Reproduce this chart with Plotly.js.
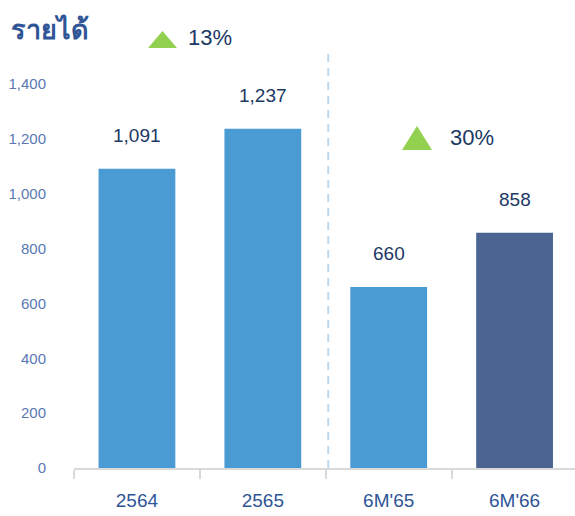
<!DOCTYPE html>
<html>
<head>
<meta charset="utf-8">
<script src="https://cdn.plot.ly/plotly-3.0.1.min.js"></script>
<style>html,body{margin:0;padding:0;background:#fff;}#chart{width:575px;height:516px;}</style>
</head>
<body>
<div id="chart"></div>
<script>
// Data
const categories = ["2564", "2565", "6M'65", "6M'66"];
const revenue = [1091, 1237, 660, 858];
const valueLabels = ["1,091", "1,237", "660", "858"];
const growthLabels = ["13%", "30%"];
const yTickVals = [0, 200, 400, 600, 800, 1000, 1200, 1400];
const yTickText = ["0", "200", "400", "600", "800", "1,000", "1,200", "1,400"];
const chartTitle = "รายได้";

const W = 575, H = 516;
const M = {l: 74, r: 0, t: 84, b: 48};
const pw = W - M.l - M.r, ph = H - M.t - M.b;
const px = x => (x - M.l) / pw;
const py = y => (H - M.b - y) / ph;

const barColors = ["#4a9bd4", "#4a9bd4", "#4a9bd4", "#4c6491"];

const trace = {
  type: 'bar',
  x: categories,
  y: revenue,
  marker: {color: barColors, line: {width: 0}},
  width: 0.61,
  hoverinfo: 'none'
};

const annotations = categories.map((c, i) => ({
  x: i, y: revenue[i], xref: 'x', yref: 'y',
  text: valueLabels[i], showarrow: false,
  yanchor: 'middle', yshift: 33,
  font: {family: 'Liberation Sans, Arial, sans-serif', size: 19, color: '#203864'}
}));

annotations.push({
  xref: 'paper', yref: 'paper', x: px(9), y: py(29),
  xanchor: 'left', yanchor: 'middle', showarrow: false,
  text: '<b>' + chartTitle + '</b>',
  font: {family: 'Noto Sans, DejaVu Sans, sans-serif', size: 27, color: '#2f5597'}
});
annotations.push({
  xref: 'paper', yref: 'paper', x: px(186), y: py(38),
  xanchor: 'left', yanchor: 'middle', showarrow: false,
  text: growthLabels[0],
  font: {family: 'Liberation Sans, Arial, sans-serif', size: 22, color: '#203864'}
});
annotations.push({
  xref: 'paper', yref: 'paper', x: px(448), y: py(137),
  xanchor: 'left', yanchor: 'middle', showarrow: false,
  text: growthLabels[1],
  font: {family: 'Liberation Sans, Arial, sans-serif', size: 22, color: '#203864'}
});

function tri(x0, x1, yTop, yBot) {
  const xm = (x0 + x1) / 2;
  return {
    type: 'path', xref: 'paper', yref: 'paper',
    path: `M ${px(x0)} ${py(yBot)} L ${px(x1)} ${py(yBot)} L ${px(xm)} ${py(yTop)} Z`,
    fillcolor: '#92d050', line: {width: 0}
  };
}

const shapes = [
  {type: 'line', xref: 'x', yref: 'paper', x0: 1.52, x1: 1.52, y0: 0, y1: py(50),
   line: {color: '#bdd7ee', width: 2, dash: '8px,6px'}},
  tri(148, 177, 31, 48),
  tri(402, 432, 126, 150)
];

const layout = {
  width: W, height: H,
  margin: M,
  paper_bgcolor: '#fff', plot_bgcolor: '#fff',
  showlegend: false,
  bargap: 0.4,
  xaxis: {
    type: 'category',
    range: [-0.5, 3.48],
    showline: true, linecolor: '#d9d9d9', linewidth: 2,
    ticks: 'outside', tickson: 'boundaries', ticklen: 9, tickcolor: '#d9d9d9', tickwidth: 2,
    showgrid: false, zeroline: false,
    tickfont: {family: 'Liberation Sans, Arial, sans-serif', size: 19, color: '#2f5597'},
    ticklabelstandoff: 14,
    fixedrange: true
  },
  yaxis: {
    range: [0, 1400],
    tickvals: yTickVals, ticktext: yTickText,
    showline: false, showgrid: false, zeroline: false, ticks: '',
    tickfont: {family: 'Liberation Sans, Arial, sans-serif', size: 15, color: '#5a79b3'},
    ticklabelstandoff: 27,
    fixedrange: true
  },
  annotations: annotations,
  shapes: shapes
};

Plotly.newPlot('chart', [trace], layout, {displayModeBar: false, staticPlot: true});
</script>
</body>
</html>
